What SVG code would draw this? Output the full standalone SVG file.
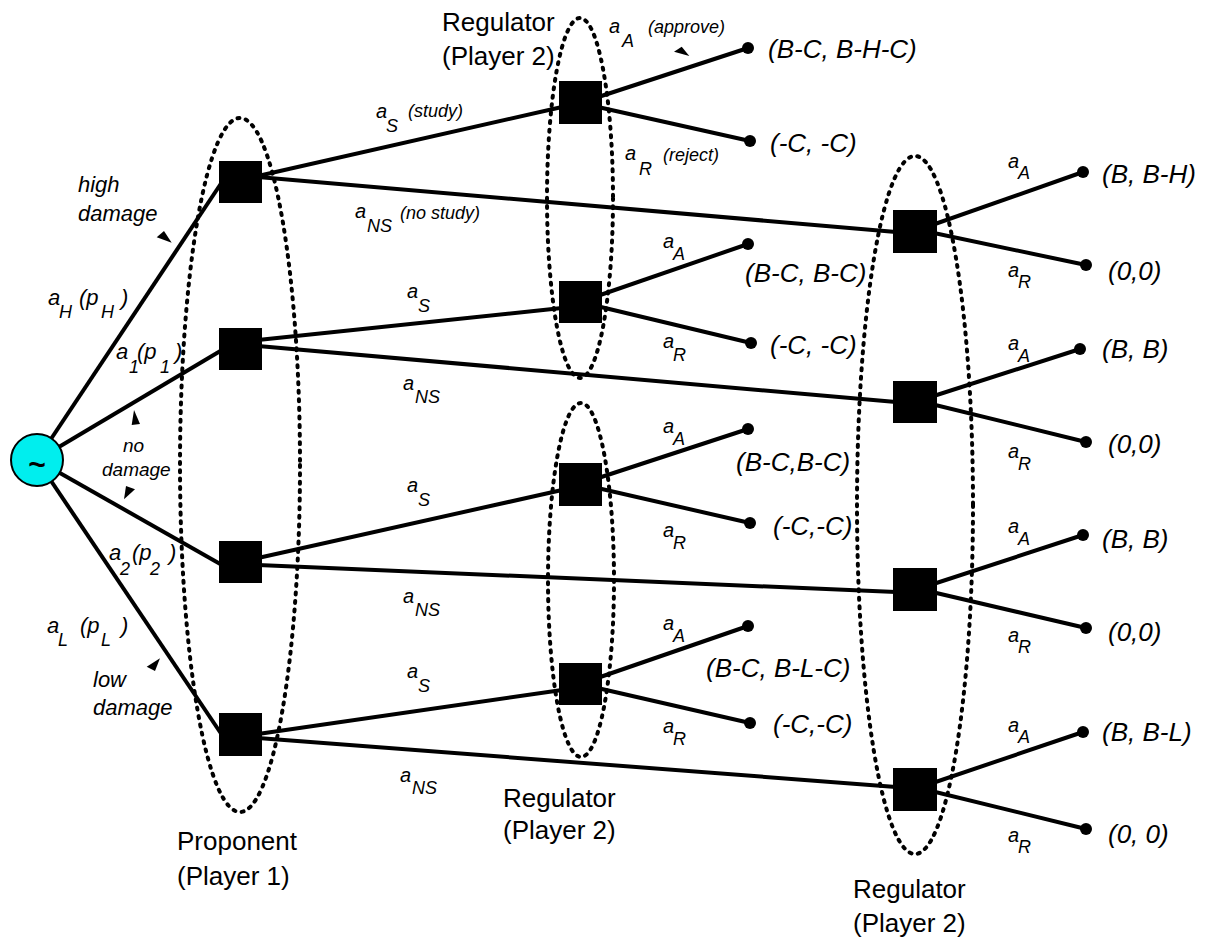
<svg xmlns="http://www.w3.org/2000/svg" width="1207" height="941" viewBox="0 0 1207 941">
<style>
  text { font-family: "Liberation Sans", Arial, Helvetica, sans-serif; fill: #000; }
  .i { font-style: italic; }
  .big { font-size: 22px; }
  .med { font-size: 19px; }
  .a { font-size: 20px; font-style: italic; }
  .sub { font-size: 18px; font-style: italic; }
  .note { font-size: 18px; font-style: italic; }
  .pay { font-size: 26px; font-style: italic; }
  .name { font-size: 26px; }
  .edge { stroke: #000; stroke-width: 4; fill: none; }
  .sq { fill: #000; }
  .dot { fill: #000; }
  .info { fill: none; stroke: #000; stroke-width: 4; stroke-dasharray: 2 6.5; stroke-linecap: round; }
  .tri { fill: #000; }
</style>

<g id="connectors">
  <line class="edge" x1="37" y1="460" x2="222" y2="182"/>
  <line class="edge" x1="37" y1="460" x2="222" y2="350"/>
  <line class="edge" x1="37" y1="460" x2="222" y2="565"/>
  <line class="edge" x1="37" y1="460" x2="222" y2="735"/>
  <line class="edge" x1="258" y1="176" x2="562" y2="107"/>
  <line class="edge" x1="258" y1="340" x2="562" y2="308"/>
  <line class="edge" x1="258" y1="558" x2="562" y2="490"/>
  <line class="edge" x1="258" y1="734" x2="562" y2="690"/>
  <line class="edge" x1="258" y1="177" x2="896" y2="232"/>
  <line class="edge" x1="258" y1="346" x2="896" y2="402"/>
  <line class="edge" x1="258" y1="565" x2="896" y2="592"/>
  <line class="edge" x1="258" y1="738" x2="896" y2="787"/>
  <line class="edge" x1="580" y1="103" x2="748" y2="48"/>
  <line class="edge" x1="580" y1="103" x2="750" y2="141"/>
  <line class="edge" x1="580" y1="302" x2="748" y2="244"/>
  <line class="edge" x1="580" y1="302" x2="751" y2="343"/>
  <line class="edge" x1="580" y1="484" x2="748" y2="429"/>
  <line class="edge" x1="580" y1="484" x2="750" y2="523"/>
  <line class="edge" x1="580" y1="684" x2="748" y2="626"/>
  <line class="edge" x1="580" y1="684" x2="750" y2="723"/>
  <line class="edge" x1="915" y1="231" x2="1083" y2="172"/>
  <line class="edge" x1="915" y1="229" x2="1086" y2="265"/>
  <line class="edge" x1="915" y1="402" x2="1080" y2="349"/>
  <line class="edge" x1="915" y1="400" x2="1086" y2="442"/>
  <line class="edge" x1="915" y1="590" x2="1083" y2="535"/>
  <line class="edge" x1="915" y1="588" x2="1086" y2="628"/>
  <line class="edge" x1="915" y1="789" x2="1083" y2="732"/>
  <line class="edge" x1="915" y1="787" x2="1086" y2="829"/>
  <polygon class="tri" points="156.7,237.3 164,231 171.7,242.7"/>
  <polygon class="tri" points="131.7,425 140,424 134,410"/>
  <polygon class="tri" points="126,486 135,489.3 124,499.3"/>
  <polygon class="tri" points="146.7,666.7 155,671 160,658.3"/>
  <polygon class="tri" points="674,51.7 681.7,46.7 689.3,56"/>
</g>

<g id="chance">
  <circle cx="37" cy="460" r="26" fill="#00eeee" stroke="#000" stroke-width="2"/>
  <text x="37" y="475" text-anchor="middle" style="font-size:30px;font-weight:bold">~</text>
</g>

<g id="proponent">
  <rect class="sq" x="219" y="161" width="43" height="42"/>
  <rect class="sq" x="219" y="328" width="43" height="42"/>
  <rect class="sq" x="219" y="541" width="43" height="42"/>
  <rect class="sq" x="219" y="713" width="43" height="43"/>
  <ellipse class="info" cx="240" cy="465" rx="60" ry="347"/>
  <text class="name" x="177" y="850">Proponent</text>
  <text class="name" x="177" y="885">(Player 1)</text>
</g>

<g id="regulator-top">
  <rect class="sq" x="559" y="81" width="43" height="43"/>
  <rect class="sq" x="559" y="281" width="43" height="42"/>
  <ellipse class="info" cx="580" cy="198" rx="33" ry="180"/>
  <text class="name" x="442" y="31">Regulator</text>
  <text class="name" x="442" y="65">(Player 2)</text>
</g>

<g id="regulator-bottom">
  <rect class="sq" x="559" y="463" width="43" height="43"/>
  <rect class="sq" x="559" y="663" width="43" height="42"/>
  <ellipse class="info" cx="581" cy="580" rx="33" ry="177"/>
  <text class="name" x="503" y="807">Regulator</text>
  <text class="name" x="503" y="839">(Player 2)</text>
</g>

<g id="regulator-right">
  <rect class="sq" x="893" y="210" width="44" height="43"/>
  <rect class="sq" x="893" y="381" width="44" height="42"/>
  <rect class="sq" x="893" y="568" width="44" height="43"/>
  <rect class="sq" x="893" y="768" width="44" height="43"/>
  <ellipse class="info" cx="915" cy="505" rx="58" ry="349"/>
  <text class="name" x="853" y="898">Regulator</text>
  <text class="name" x="853" y="932">(Player 2)</text>
</g>

<g id="terminals">
  <circle class="dot" cx="748" cy="48" r="6"/>
  <circle class="dot" cx="750" cy="141" r="6"/>
  <circle class="dot" cx="748" cy="244" r="6"/>
  <circle class="dot" cx="751" cy="343" r="6"/>
  <circle class="dot" cx="748" cy="429" r="6"/>
  <circle class="dot" cx="750" cy="523" r="6"/>
  <circle class="dot" cx="748" cy="626" r="6"/>
  <circle class="dot" cx="750" cy="723" r="6"/>
  <circle class="dot" cx="1083" cy="172" r="6"/>
  <circle class="dot" cx="1086" cy="265" r="6"/>
  <circle class="dot" cx="1080" cy="349" r="6"/>
  <circle class="dot" cx="1086" cy="442" r="6"/>
  <circle class="dot" cx="1083" cy="535" r="6"/>
  <circle class="dot" cx="1086" cy="628" r="6"/>
  <circle class="dot" cx="1083" cy="732" r="6"/>
  <circle class="dot" cx="1086" cy="829" r="6"/>
  <text class="pay" x="768" y="58">(B-C, B-H-C)</text>
  <text class="pay" x="770" y="152">(-C, -C)</text>
  <text class="pay" x="745" y="282">(B-C, B-C)</text>
  <text class="pay" x="770" y="354">(-C, -C)</text>
  <text class="pay" x="736" y="471">(B-C,B-C)</text>
  <text class="pay" x="773" y="535">(-C,-C)</text>
  <text class="pay" x="706" y="677">(B-C, B-L-C)</text>
  <text class="pay" x="773" y="733">(-C,-C)</text>
  <text class="pay" x="1102" y="183">(B, B-H)</text>
  <text class="pay" x="1108" y="280">(0,0)</text>
  <text class="pay" x="1102" y="358">(B, B)</text>
  <text class="pay" x="1108" y="453">(0,0)</text>
  <text class="pay" x="1102" y="548">(B, B)</text>
  <text class="pay" x="1108" y="641">(0,0)</text>
  <text class="pay" x="1102" y="741">(B, B-L)</text>
  <text class="pay" x="1108" y="843">(0, 0)</text>
</g>

<g id="labels">
  <text class="big i" x="78" y="192">high</text>
  <text class="big i" x="78" y="221">damage</text>
  <text class="med i" x="123" y="452">no</text>
  <text class="med i" x="102" y="476">damage</text>
  <text class="big i" x="93" y="687">low</text>
  <text class="big i" x="93" y="715">damage</text>

  <text class="big i" x="48" y="305">a</text><text class="sub" x="59" y="318">H</text>
  <text class="big i" x="79" y="305">(p</text><text class="sub" x="101" y="318">H</text>
  <text class="big i" x="121" y="305">)</text>

  <text class="big i" x="116" y="359">a</text><text class="sub" x="129" y="373">1</text>
  <text class="big i" x="137" y="359">(p</text><text class="sub" x="160" y="373">1</text>
  <text class="big i" x="175" y="359">)</text>

  <text class="big i" x="109" y="560">a</text><text class="sub" x="120" y="575">2</text>
  <text class="big i" x="132" y="560">(p</text><text class="sub" x="150" y="575">2</text>
  <text class="big i" x="169" y="560">)</text>

  <text class="big i" x="47" y="633">a</text><text class="sub" x="58" y="646">L</text>
  <text class="big i" x="80" y="633">(p</text><text class="sub" x="101" y="646">L</text>
  <text class="big i" x="121" y="633">)</text>

  <text class="a" x="376" y="118">a</text><text class="sub" x="386" y="132">S</text>
  <text class="note" x="408" y="117">(study)</text>
  <text class="a" x="355" y="218">a</text><text class="sub" x="367" y="232">NS</text>
  <text class="note" x="400" y="219">(no study)</text>

  <text class="a" x="407" y="298">a</text><text class="sub" x="418" y="312">S</text>
  <text class="a" x="403" y="390">a</text><text class="sub" x="415" y="403">NS</text>
  <text class="a" x="407" y="492">a</text><text class="sub" x="418" y="506">S</text>
  <text class="a" x="403" y="603">a</text><text class="sub" x="415" y="616">NS</text>
  <text class="a" x="407" y="678">a</text><text class="sub" x="418" y="692">S</text>
  <text class="a" x="400" y="782">a</text><text class="sub" x="412" y="794">NS</text>

  <text class="a" x="609" y="33">a</text><text class="sub" x="622" y="47">A</text>
  <text class="note" x="648" y="33">(approve)</text>
  <text class="a" x="625" y="160">a</text><text class="sub" x="639" y="175">R</text>
  <text class="note" x="663" y="161">(reject)</text>

  <text class="a" x="663" y="248">a</text><text class="sub" x="673" y="260">A</text>
  <text class="a" x="663" y="348">a</text><text class="sub" x="673" y="361">R</text>
  <text class="a" x="663" y="433">a</text><text class="sub" x="673" y="445">A</text>
  <text class="a" x="663" y="537">a</text><text class="sub" x="673" y="549">R</text>
  <text class="a" x="663" y="630">a</text><text class="sub" x="673" y="642">A</text>
  <text class="a" x="663" y="733">a</text><text class="sub" x="673" y="745">R</text>

  <text class="a" x="1008" y="168">a</text><text class="sub" x="1018" y="179">A</text>
  <text class="a" x="1008" y="277">a</text><text class="sub" x="1018" y="288">R</text>
  <text class="a" x="1008" y="350">a</text><text class="sub" x="1018" y="362">A</text>
  <text class="a" x="1008" y="458">a</text><text class="sub" x="1018" y="470">R</text>
  <text class="a" x="1008" y="533">a</text><text class="sub" x="1018" y="545">A</text>
  <text class="a" x="1008" y="642">a</text><text class="sub" x="1018" y="653">R</text>
  <text class="a" x="1008" y="732">a</text><text class="sub" x="1018" y="743">A</text>
  <text class="a" x="1008" y="842">a</text><text class="sub" x="1018" y="853">R</text>
</g>
</svg>
